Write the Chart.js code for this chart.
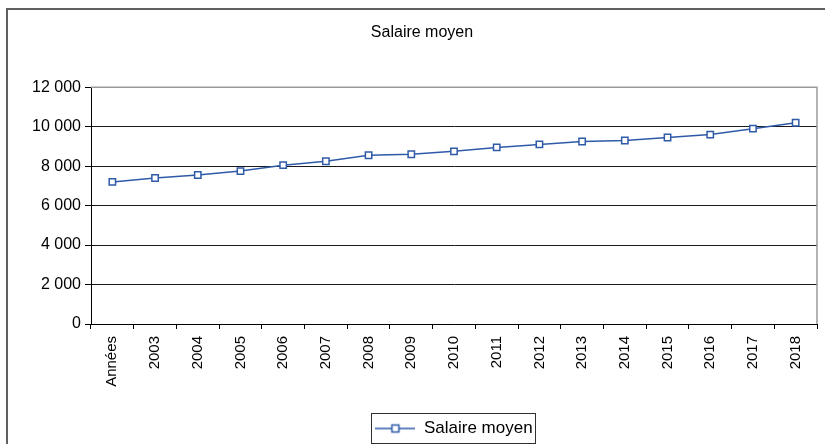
<!DOCTYPE html>
<html lang="fr">
<head>
<meta charset="utf-8">
<title>Salaire moyen</title>
<script src="https://cdn.jsdelivr.net/npm/chart.js@4.4.1/dist/chart.umd.min.js"></script>
<style>
  html, body { margin: 0; padding: 0; background: #fff; }
  #wrap { width: 825px; height: 444px; position: relative; }
</style>
</head>
<body>
<div id="wrap"><canvas id="chart" width="825" height="444"></canvas></div>
<script>
// Catégories de l'axe horizontal
const categories = ['Années', '2003', '2004', '2005', '2006', '2007', '2008', '2009',
  '2010', '2011', '2012', '2013', '2014', '2015', '2016', '2017', '2018'];

// Salaire moyen par année
const salaireMoyen = [7200, 7400, 7550, 7750, 8050, 8250, 8550, 8600,
  8750, 8950, 9100, 9250, 9300, 9450, 9600, 9900, 10200];

// Graduations de l'axe vertical
const yTicks = [0, 2000, 4000, 6000, 8000, 10000, 12000];

const seriesName = 'Salaire moyen';
const lineColor = '#2f5aa8';
const FONT = 'Liberation Sans, Arial, sans-serif';

// Format français : espace comme séparateur de milliers
function fmt(v) {
  return String(v).replace(/\B(?=(\d{3})+(?!\d))/g, ' ');
}

// Symbole de légende : segment de ligne avec un marqueur carré
function legendSymbol() {
  const c = document.createElement('canvas');
  c.width = 40; c.height = 12;
  const g = c.getContext('2d');
  g.strokeStyle = lineColor;
  g.lineWidth = 1.5;
  g.beginPath(); g.moveTo(0, 6); g.lineTo(40, 6); g.stroke();
  g.fillStyle = '#fff';
  g.fillRect(16, 2, 8, 8);
  g.strokeRect(16.5, 2.5, 7, 7);
  return c;
}

// Cadre extérieur, bordure grise du tracé et cadre de la légende
const frames = {
  id: 'frames',
  beforeDraw(chart) {
    const ctx = chart.ctx;
    ctx.save();
    ctx.strokeStyle = '#606060';
    ctx.lineWidth = 2;
    ctx.beginPath();
    ctx.moveTo(7, 444); ctx.lineTo(7, 9); ctx.lineTo(825, 9);
    ctx.stroke();
    ctx.restore();
  },
  afterDraw(chart) {
    const ctx = chart.ctx;
    const a = chart.chartArea;
    ctx.save();
    ctx.strokeStyle = '#9a9a9a';
    ctx.lineWidth = 1.5;
    ctx.beginPath();
    ctx.moveTo(a.left, a.top); ctx.lineTo(a.right, a.top); ctx.lineTo(a.right, a.bottom);
    ctx.stroke();
    const lg = chart.legend;
    if (lg && lg.legendHitBoxes && lg.legendHitBoxes.length) {
      const hb = lg.legendHitBoxes[0];
      ctx.strokeStyle = '#303030';
      ctx.lineWidth = 1;
      ctx.strokeRect(Math.round(hb.left) - 3.5, Math.round(hb.top) - 6.5,
        Math.round(hb.width) + 7, Math.round(hb.height) + 13);
    }
    ctx.restore();
  }
};

new Chart(document.getElementById('chart'), {
  type: 'line',
  data: {
    labels: categories,
    datasets: [{
      label: seriesName,
      data: salaireMoyen,
      borderColor: lineColor,
      borderWidth: 1.5,
      backgroundColor: '#ffffff',
      pointStyle: 'rect',
      pointRadius: 4.5,
      pointBorderWidth: 1.5,
      pointBorderColor: lineColor,
      pointBackgroundColor: '#ffffff',
      tension: 0
    }]
  },
  options: {
    responsive: false,
    animation: false,
    devicePixelRatio: 1,
    layout: { padding: { left: 27, right: 8, top: 0, bottom: -3 } },
    plugins: {
      title: {
        display: true,
        text: 'Salaire moyen',
        color: '#000',
        font: { family: FONT, size: 16, weight: 'normal' },
        padding: { top: 23, bottom: 45 }
      },
      legend: {
        display: true,
        position: 'bottom',
        fullSize: false,
        labels: {
          color: '#000',
          font: { family: FONT, size: 17 },
          usePointStyle: true,
          pointStyle: legendSymbol(),
          pointStyleWidth: 40,
          padding: 8
        }
      },
      tooltip: { enabled: false }
    },
    scales: {
      x: {
        offset: true,
        grid: {
          offset: true,
          drawOnChartArea: false,
          drawTicks: true,
          tickLength: 5,
          color: '#000'
        },
        border: { color: '#000', width: 1 },
        ticks: {
          color: '#000',
          font: { family: FONT, size: 15 },
          minRotation: 90,
          maxRotation: 90,
          autoSkip: false,
          padding: 7
        },
        afterFit(s) { s.height = 88; }
      },
      y: {
        min: yTicks[0],
        max: yTicks[yTicks.length - 1],
        afterBuildTicks(s) { s.ticks = yTicks.map(v => ({ value: v })); },
        grid: {
          color: ctx => (ctx.tick && ctx.tick.value === yTicks[yTicks.length - 1]) ? '#9a9a9a' : '#1a1a1a',
          lineWidth: 1,
          drawTicks: true,
          tickLength: 6,
          tickColor: '#000'
        },
        border: { color: '#000', width: 1 },
        ticks: {
          color: '#000',
          font: { family: FONT, size: 16 },
          padding: 4,
          callback: v => fmt(v)
        },
        afterFit(s) { s.width = 64; }
      }
    }
  },
  plugins: [frames]
});
</script>
</body>
</html>
